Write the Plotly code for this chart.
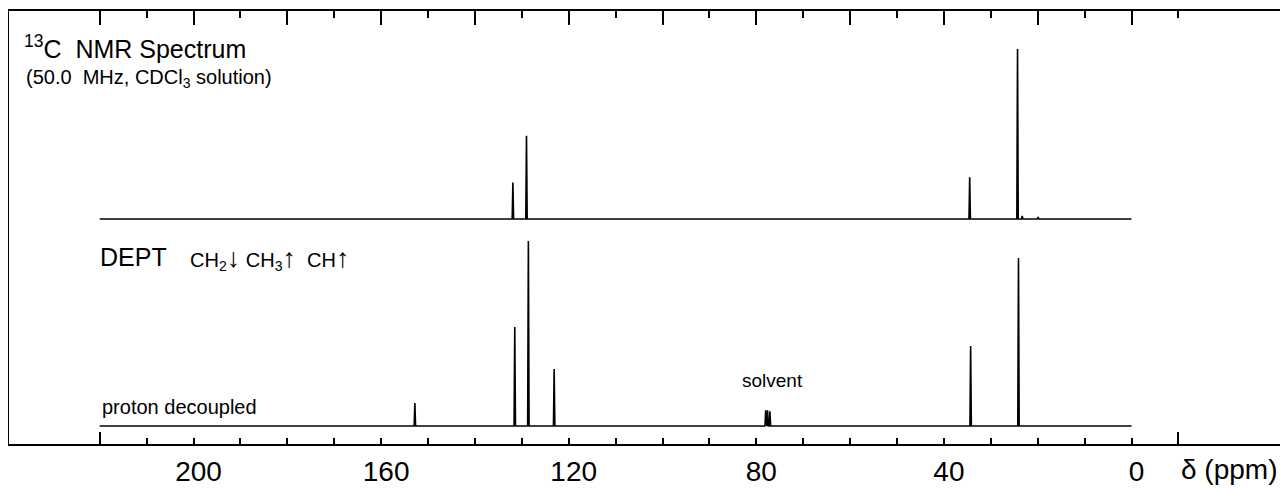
import plotly.graph_objects as go

# ---- data ----
# upper trace (DEPT)
dept_ppm = [131.9, 129.0, 34.5, 24.3, 23.3, 19.9]
dept_int = [21.5, 49.0, 24.5, 100.0, 1.8, 1.2]
# lower trace (proton decoupled)
pd_ppm = [152.8, 131.5, 128.6, 123.1, 78.0, 77.6, 77.1, 34.3, 24.1]
pd_int = [12.4, 53.5, 100.0, 30.8, 8.5, 8.5, 8.0, 43.2, 90.8]
spec_start, spec_end = 220.0, 0.0

minor_ticks = list(range(210, -1, -10))
end_ticks = [220, -10]
label_vals = [200, 160, 120, 80, 40, 0]
top_major = list(range(220, -1, -20))
top_minor = list(range(210, -20, -20))

HALF_W = 0.15


def stick_line(ppm, inten):
    pairs = sorted(zip(ppm, inten), key=lambda t: -t[0])
    xs, ys = [spec_start], [0.0]
    for p, h in pairs:
        xs += [p + HALF_W, p, p - HALF_W]
        ys += [0.0, h, 0.0]
    xs.append(spec_end)
    ys.append(0.0)
    return xs, ys


FONT = "Liberation Sans, Arial, Helvetica, sans-serif"
OFF = 8                      # default page (body) margin of the html page
W, H = 1280, 480
ML, MR, MT, MB = 1, 7, 3, 44
PW, PH = W - ML - MR, H - MT - MB
# plot area in page pixels: x 9..1281, y 11..444 ; 0 ppm at x=1131.5, 4.69 px/ppm
left_px, right_px = OFF + ML, OFF + W - MR
X_RANGE = [(1131.5 - left_px) / 4.69, (1131.5 - right_px) / 4.69]


def px(xp):
    return (xp - OFF - ML) / PW


def py(yp):
    return (H - MB - (yp - OFF)) / PH


bottom_px, top_px = OFF + H - MB, OFF + MT

fig = go.Figure()
bx, by = stick_line(pd_ppm, pd_int)
tx, ty = stick_line(dept_ppm, dept_int)
fig.add_trace(go.Scatter(x=bx, y=by, mode="lines", line=dict(color="black", width=1.6),
                         xaxis="x", yaxis="y", showlegend=False, hoverinfo="skip"))
fig.add_trace(go.Scatter(x=tx, y=ty, mode="lines", line=dict(color="black", width=1.6),
                         xaxis="x2", yaxis="y2", showlegend=False, hoverinfo="skip"))
# invisible anchor so that the end-tick axis is drawn
fig.add_trace(go.Scatter(x=[spec_end], y=[0], mode="markers", marker=dict(opacity=0),
                         xaxis="x3", yaxis="y", showlegend=False, hoverinfo="skip"))

ticktext = [str(v) if v in label_vals else "" for v in minor_ticks]

# baselines: lower at page y=426 (1.85 px/unit), upper at y=219 (1.70 px/unit)
y1_range = [-(bottom_px - 426) / 1.85, (426 - top_px) / 1.85]
y2_range = [-(bottom_px - 219) / 1.70, (219 - top_px) / 1.70]

fig.update_layout(
    template="none",
    width=W, height=H,
    margin=dict(l=ML, r=MR, t=MT, b=MB, pad=0, autoexpand=False),
    paper_bgcolor="white", plot_bgcolor="white",
    font=dict(family=FONT, color="black"),
    xaxis=dict(range=X_RANGE, showgrid=False, zeroline=False, automargin=False,
               showline=True, linecolor="black", linewidth=2, mirror=True,
               ticks="inside", tickvals=minor_ticks, ticktext=ticktext,
               ticklen=6, tickwidth=1.5, tickcolor="black",
               tickfont=dict(size=28, family=FONT, color="black"),
               ticklabelshift=-5, ticklabelstandoff=1),
    xaxis2=dict(range=X_RANGE, overlaying="x", side="top", anchor="y",
                showgrid=False, zeroline=False, showline=False, automargin=False,
                ticks="inside", tickvals=top_major, ticklen=14, tickwidth=2,
                tickcolor="black", showticklabels=False,
                minor=dict(tickvals=top_minor, ticks="inside", ticklen=7,
                           tickwidth=2, tickcolor="black", showgrid=False)),
    xaxis3=dict(range=X_RANGE, overlaying="x", side="bottom", anchor="y",
                showgrid=False, zeroline=False, showline=False, automargin=False,
                ticks="inside", tickvals=end_ticks, ticklen=12, tickwidth=2,
                tickcolor="black", showticklabels=False),
    yaxis=dict(range=y1_range, showgrid=False, zeroline=False, automargin=False,
               showline=True, linecolor="black", linewidth=2, mirror=True,
               ticks="", showticklabels=False),
    yaxis2=dict(range=y2_range, overlaying="y", showgrid=False, zeroline=False,
                automargin=False, showline=False, ticks="", showticklabels=False),
)

ARROW = "<span style='font-size:27px;font-weight:bold'>{}</span>"
ann = [
    dict(text="<sup>13</sup>C  NMR Spectrum", x=px(22), y=py(47), size=25),
    dict(text="(50.0  MHz, CDCl<sub>3</sub> solution)", x=px(24), y=py(78), size=20),
    dict(text="DEPT", x=px(98), y=py(257), size=25),
    dict(text="CH<sub>2</sub>" + ARROW.format("\u2193") + " CH<sub>3</sub>"
              + ARROW.format("\u2191") + "  CH" + ARROW.format("\u2191"),
         x=px(188), y=py(258), size=20),
    dict(text="proton decoupled", x=px(100), y=py(407), size=20),
]
for a in ann:
    fig.add_annotation(text=a["text"], x=a["x"], y=a["y"], xref="paper", yref="paper",
                       xanchor="left", yanchor="middle", showarrow=False,
                       font=dict(size=a["size"], family=FONT, color="black"))
fig.add_annotation(text="solvent", x=px(772), y=py(380), xref="paper", yref="paper",
                   xanchor="center", yanchor="middle", showarrow=False,
                   font=dict(size=19, family=FONT, color="black"))
fig.add_annotation(text="\u03b4 (ppm)", x=px(1229), y=py(469), xref="paper", yref="paper",
                   xanchor="center", yanchor="middle", showarrow=False,
                   font=dict(size=28, family=FONT, color="black"))

fig.write_html("out.html")
